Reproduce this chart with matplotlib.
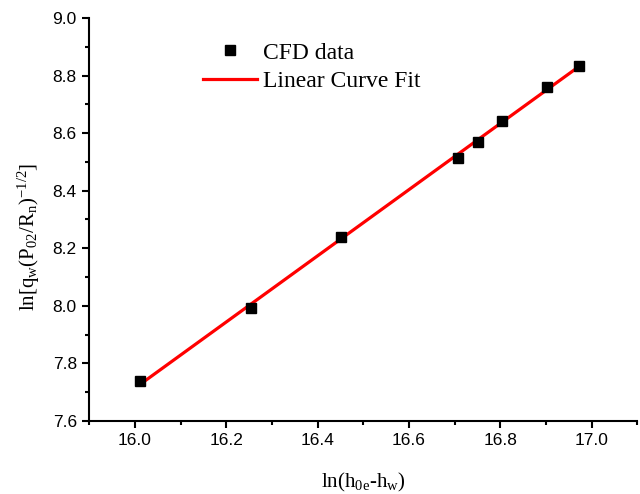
#Program to plot ln heat flux vs ln enthalpy difference with linear fit

import numpy as np
import matplotlib
matplotlib.use('Agg')
import matplotlib.pyplot as plt
from matplotlib.ticker import MultipleLocator

# CFD data
ln_dh = [16.012, 16.253, 16.452, 16.707, 16.750, 16.803, 16.902, 16.972]
ln_q = [7.737, 7.993, 8.239, 8.515, 8.568, 8.643, 8.761, 8.833]

x_label = r'ln(h$_{\mathrm{0e}}$-h$_{\mathrm{w}}$)'
y_label = r'ln[q$_{\mathrm{w}}$(P$_{\mathrm{02}}$/R$_{\mathrm{n}}$)$^{\mathrm{-1/2}}$]'

plt.rcParams['mathtext.fontset'] = 'custom'
plt.rcParams['mathtext.rm'] = 'Liberation Serif'
plt.rcParams['mathtext.it'] = 'Liberation Serif'

fig = plt.figure(figsize=(6.4, 4.94), dpi=100)
ax = fig.add_axes([0.1395, 0.148, 0.8565, 0.8155])

# linear fit through the CFD points
k, b = np.polyfit(ln_dh, ln_q, 1)
x_fit = np.array([min(ln_dh), max(ln_dh)])
ax.plot(x_fit, k * x_fit + b, color='red', lw=2.3, label='Linear Curve Fit', zorder=2)
ax.plot(ln_dh, ln_q, 's', color='black', ms=6.5, label='CFD data', zorder=3)

ax.set_xlim(15.9, 17.1)
ax.set_ylim(7.6, 9.0)
ax.xaxis.set_major_locator(MultipleLocator(0.2))
ax.xaxis.set_minor_locator(MultipleLocator(0.1))
ax.yaxis.set_major_locator(MultipleLocator(0.2))
ax.yaxis.set_minor_locator(MultipleLocator(0.1))
ax.xaxis.set_major_formatter(matplotlib.ticker.FormatStrFormatter('%.1f'))
ax.yaxis.set_major_formatter(matplotlib.ticker.FormatStrFormatter('%.1f'))

for side in ['top', 'right']:
    ax.spines[side].set_visible(False)
for side in ['left', 'bottom']:
    ax.spines[side].set_linewidth(1.5)
ax.tick_params(which='major', direction='out', length=5, width=1.5, labelsize=12.5, pad=4)
ax.tick_params(which='minor', direction='out', length=3, width=1.5)
for lab in ax.get_xticklabels() + ax.get_yticklabels():
    lab.set_fontfamily('Liberation Sans')

ax.set_xlabel(x_label, fontfamily='Liberation Serif', fontsize=15)
ax.set_ylabel(y_label, fontfamily='Liberation Serif', fontsize=15)
ax.xaxis.set_label_coords(0.5, -0.125)
ax.yaxis.set_label_coords(-0.087, 0.457)

handles, labels = ax.get_legend_handles_labels()
leg = fig.legend(handles[::-1], labels[::-1], loc='upper left',
                 bbox_to_anchor=(203 / 640, 1 - 42 / 494), frameon=False,
                 borderpad=0, borderaxespad=0, handlelength=2.3,
                 handletextpad=0.25, labelspacing=0.3,
                 prop={'family': 'Liberation Serif', 'size': 17})

fig.savefig('out.png', dpi=100)
